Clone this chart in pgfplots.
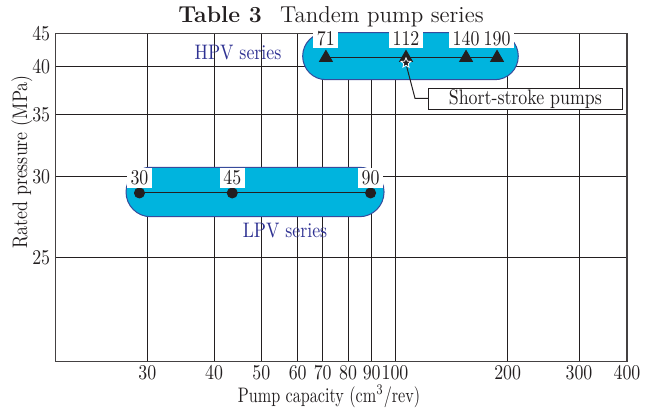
\documentclass[border=0pt]{standalone}
\usepackage{fontspec}
\setmainfont{Latin Modern Roman}[FakeStretch=0.85]
\newfontfamily\titlefont{Latin Modern Roman}
\newfontfamily\narrowfont{Latin Modern Roman}[FakeStretch=0.77]
\usepackage{pgfplots}
\pgfplotsset{compat=1.18}

\definecolor{capsule}{RGB}{0,180,222}
\definecolor{capedge}{RGB}{55,75,155}
\definecolor{serieslbl}{RGB}{46,49,146}
\definecolor{ink}{RGB}{35,31,32}

\newcommand\lbl{\fontsize{10.5}{12}\selectfont}

% filled five-pointed star
\pgfdeclareplotmark{fstar}{%
  \pgfpathmoveto{\pgfpointpolar{90}{\pgfplotmarksize}}%
  \pgfpathlineto{\pgfpointpolar{126}{0.45\pgfplotmarksize}}%
  \pgfpathlineto{\pgfpointpolar{162}{\pgfplotmarksize}}%
  \pgfpathlineto{\pgfpointpolar{198}{0.45\pgfplotmarksize}}%
  \pgfpathlineto{\pgfpointpolar{234}{\pgfplotmarksize}}%
  \pgfpathlineto{\pgfpointpolar{270}{0.45\pgfplotmarksize}}%
  \pgfpathlineto{\pgfpointpolar{306}{\pgfplotmarksize}}%
  \pgfpathlineto{\pgfpointpolar{342}{0.45\pgfplotmarksize}}%
  \pgfpathlineto{\pgfpointpolar{18}{\pgfplotmarksize}}%
  \pgfpathlineto{\pgfpointpolar{54}{0.45\pgfplotmarksize}}%
  \pgfpathclose
  \pgfusepathqfillstroke}

\begin{document}
\begin{tikzpicture}
\useasboundingbox (-27.85pt,-23.15pt) rectangle (300.15pt,180.85pt);
\begin{axis}[
  at={(0,0)}, anchor=south west,
  scale only axis, width=285.65pt, height=164.2pt,
  % the printed scales are hand drawn: piecewise through the grid lines
  x coord trafo/.code={%
    \pgfmathparse{ln(#1)}\let\lnx=\pgfmathresult
    \pgfmathparse{\lnx<3.4012 ? 55.7+(\lnx-3.00568)*231.6 :
      (\lnx<3.68888 ? 147.3+(\lnx-3.4012)*231.86 :
      (\lnx<3.91202 ? 214.0+(\lnx-3.68888)*211.97 :
      (\lnx<4.09434 ? 261.3+(\lnx-3.91202)*199.65 :
      (\lnx<4.2485 ? 297.7+(\lnx-4.09434)*162.17 :
      (\lnx<4.38203 ? 322.7+(\lnx-4.2485)*189.47 :
      (\lnx<4.49981 ? 348.0+(\lnx-4.38203)*201.22 :
      (\lnx<4.60517 ? 371.7+(\lnx-4.49981)*221.15 :
      (\lnx<5.29832 ? 395.0+(\lnx-4.60517)*162.59 :
      (\lnx<5.70378 ? 507.7+(\lnx-5.29832)*175.85 :
      579.0+(\lnx-5.70378)*166.85))))))))))}%
  },
  y coord trafo/.code={%
    \pgfmathparse{(#1)<30 ? 103.7+((#1)-25)*16.26 :
      ((#1)<35 ? 185.0+((#1)-30)*12.48 :
      ((#1)<40 ? 247.4+((#1)-35)*9.6 : 295.4+((#1)-40)*6.6))}%
  },
  xmin=20.2, xmax=400, ymin=18.622, ymax=45,
  xtick={30,40,50,60,70,80,90,100,200,300,400},
  xticklabels={30,40,50,60,70,80,90,100,200,300,400},
  ytick={25,30,35,40,45},
  yticklabels={25,30,35,40,45},
  grid=major,
  major grid style={ink, line width=0.5pt},
  major tick length=0pt,
  axis line style={ink!85, line width=0.75pt},
  tick label style={font=\lbl, text=ink},
  xticklabel style={anchor=north, inner sep=0pt, yshift=-1.7pt},
  yticklabel style={anchor=east, inner sep=0pt, xshift=-2.6pt},
  clip=false,
]
% series bands
\filldraw[fill=capsule, draw=capedge, line width=0.5pt, rounded corners=12.3pt]
  (rel axis cs:0.1231,0.4415) rectangle (rel axis cs:0.5747,0.5920);
\filldraw[fill=capsule, draw=capedge, line width=0.5pt, rounded corners=11.7pt]
  (rel axis cs:0.4323,0.8587) rectangle (rel axis cs:0.8097,1.0018);

% LPV series
\addplot[ink, line width=0.5pt, mark=*, mark size=2.5pt, mark options={fill=ink},
  nodes near coords, point meta=explicit symbolic,
  every node near coord/.style={anchor=base, yshift=4pt, fill=white,
    inner xsep=1.8pt, inner ysep=1.3pt, font=\lbl, text=ink}]
  coordinates {(29,29) [30] (43.6,29) [45] (89.5,29) [90]};

% HPV series
\addplot[ink, line width=0.5pt, mark=triangle*, mark size=3.6pt, mark options={fill=ink},
  nodes near coords, point meta=explicit symbolic,
  every node near coord/.style={anchor=base, yshift=6.2pt, fill=white,
    inner xsep=1.8pt, inner ysep=1.3pt, font=\lbl, text=ink}]
  coordinates {(71.2,41.3) [71] (107,41.3) [112] (154.8,41.3) [140] (187.3,41.3) [190]};

% callout
\draw[ink, line width=0.5pt] (rel axis cs:0.6144,0.8983) -- (rel axis cs:0.6289,0.8021)
  -- (rel axis cs:0.6534,0.8021);
\addplot[only marks, mark=fstar, mark size=2.6pt,
  mark options={fill=ink, draw=white, line width=0.4pt}]
  coordinates {(107,40.5)};
\node[draw=ink, fill=white, line width=0.5pt, minimum width=96.65pt,
  minimum height=10.45pt, inner sep=0pt, font=\lbl, text=ink]
  at (rel axis cs:0.8221,0.8007) {Short-stroke pumps};

\node[anchor=base, font=\lbl, text=serieslbl] at (rel axis cs:0.3191,0.9187) {HPV series};
\node[anchor=base, font=\lbl, text=serieslbl] at (rel axis cs:0.4014,0.3767) {LPV series};

% title and axis labels
\node[anchor=base, text=ink] at (rel axis cs:0.4819,1.0314)
  {\titlefont\fontsize{11.5}{13}\selectfont\textbf{Table 3}\hspace{0.8em}Tandem pump series};
\node[anchor=base, text=ink, inner sep=0pt] at (rel axis cs:0.4784,-0.125)
  {\narrowfont\lbl Pump capacity (cm\textsuperscript{3}/rev)};
\node[rotate=90, font=\lbl, text=ink] at (rel axis cs:-0.0590,0.6081)
  {Rated pressure (MPa)};
\end{axis}
\end{tikzpicture}
\end{document}
